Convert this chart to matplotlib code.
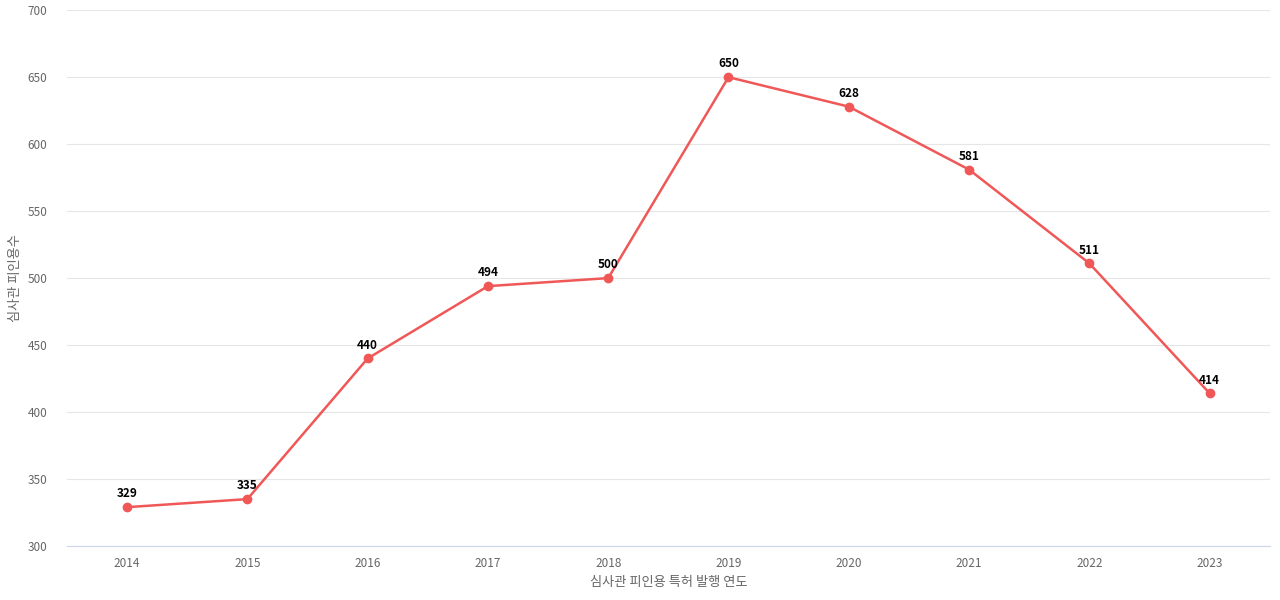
import matplotlib
matplotlib.use("Agg")
import matplotlib.pyplot as plt

plt.rcParams['font.family'] = ['Noto Sans CJK KR', 'DejaVu Sans']

years = [2014, 2015, 2016, 2017, 2018, 2019, 2020, 2021, 2022, 2023]
counts = [329, 335, 440, 494, 500, 650, 628, 581, 511, 414]

fig = plt.figure(figsize=(12.8, 6), dpi=100)
ax = fig.add_axes([0.0523, 0.09, 0.9397, 0.893])

c = "#f05858"
ax.plot(years, counts, "-o", color=c, lw=1.8, ms=6, zorder=3)
for x, y in zip(years, counts):
    ax.text(x, y + 5, str(y), ha="center", va="bottom", fontsize=8.5,
            fontweight="bold", color="black")

ax.set_xlim(2013.5, 2023.5)
ax.set_ylim(300, 700)
ax.set_yticks(range(300, 701, 50))
ax.set_xticks(years)
ax.grid(axis="y", color="#e6e6e6", lw=0.8)
ax.set_axisbelow(True)
for s in ["top", "right", "left"]:
    ax.spines[s].set_visible(False)
ax.spines["bottom"].set_color("#ccd6eb")
ax.tick_params(length=0, labelsize=8.5, labelcolor="#666666", pad=8)
ax.tick_params(axis="y", pad=14)
ax.set_xlabel("심사관 피인용 특허 발행 연도", fontsize=9.5, color="#666666", labelpad=4)
ax.set_ylabel("심사관 피인용수", fontsize=9.5, color="#666666", labelpad=4)

fig.savefig("out.png", dpi=100)
